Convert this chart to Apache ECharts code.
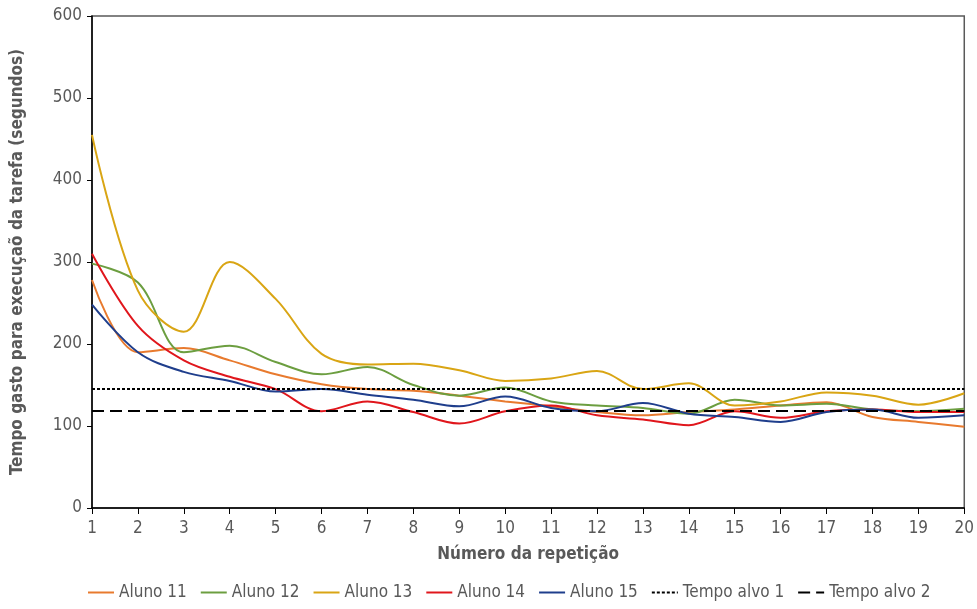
<!DOCTYPE html>
<html>
<head>
<meta charset="utf-8">
<script src="https://cdn.jsdelivr.net/npm/echarts@6/dist/echarts.min.js"></script>
<style>html,body{margin:0;padding:0;background:#fff}#c{width:977px;height:609px}</style>
</head>
<body>
<div id="c"></div>
<script>
const categories = ['1','2','3','4','5','6','7','8','9','10','11','12','13','14','15','16','17','18','19','20'];
const aluno11 = [278,190,195,180,163,151,145,143,137,130,124,117,113,117,120,125,129,111,105,99];
const aluno12 = [298,275,190,198,178,163,172,150,137,147,130,125,122,115,132,125,127,120,118,121];
const aluno13 = [455,265,215,300,255,188,175,176,168,155,158,167,145,152,125,130,141,137,126,140];
const aluno14 = [310,222,180,160,145,118,130,117,103,118,125,113,108,101,118,110,118,120,117,117];
const aluno15 = [248,190,166,155,142,145,138,132,124,136,122,118,128,115,111,105,117,120,110,113];
const tempoAlvo1 = 146;
const tempoAlvo2 = 118;
const yTicks = [0,100,200,300,400,500,600];

const font = 'DejaVu Sans Condensed, DejaVu Sans, sans-serif';
const txt = '#595959';
function line(name, data, color){
  return {name, type:'line', data, smooth:0.35, symbol:'none', showSymbol:false, lineStyle:{color, width:2}, itemStyle:{color}, z:3};
}
function target(name, value, type){
  return {name, type:'line', data:[], symbol:'none', showSymbol:false, lineStyle:{color:'#000', width:2, type}, itemStyle:{color:'#000'},
    markLine:{silent:true, symbol:'none', label:{show:false}, lineStyle:{color:'#000', width:2, type}, data:[{yAxis:value}]}, z:2};
}
const chart = echarts.init(document.getElementById('c'), null, {renderer:'canvas'});
chart.setOption({
  animation:false,
  grid:{left:92, right:12, top:16, bottom:101, show:true, borderColor:'#595959', borderWidth:1.5},
  xAxis:{type:'category', data:categories, boundaryGap:false,
    name:'Número da repetição', nameLocation:'middle', nameGap:38,
    nameTextStyle:{color:txt, fontFamily:font, fontSize:17, fontWeight:'bold'},
    axisLine:{lineStyle:{color:'#000', width:1.5}},
    axisTick:{show:true, length:6, lineStyle:{color:'#000'}, alignWithLabel:true},
    axisLabel:{color:txt, fontFamily:font, fontSize:17, margin:12},
    splitLine:{show:false}},
  yAxis:{type:'value', min:0, max:600, interval:100,
    name:'Tempo gasto para execuçaõ da tarefa (segundos)', nameLocation:'middle', nameGap:66,
    nameTextStyle:{color:txt, fontFamily:font, fontSize:17, fontWeight:'bold'},
    axisLine:{show:true, lineStyle:{color:'#000', width:1.5}},
    axisTick:{show:true, length:5, lineStyle:{color:'#000'}},
    axisLabel:{color:txt, fontFamily:font, fontSize:17, margin:10, formatter:v=>yTicks.includes(v)?String(v):''},
    splitLine:{show:false}},
  legend:{bottom:3, left:82, itemWidth:26, itemHeight:10, itemGap:13,
    itemStyle:{opacity:0},
    textStyle:{color:txt, fontFamily:font, fontSize:17}},
  series:[
    line('Aluno 11', aluno11, '#E87A2E'),
    line('Aluno 12', aluno12, '#6C9E40'),
    line('Aluno 13', aluno13, '#D9A514'),
    line('Aluno 14', aluno14, '#E0161C'),
    line('Aluno 15', aluno15, '#1F3E8C'),
    target('Tempo alvo 1', tempoAlvo1, [3,2]),
    target('Tempo alvo 2', tempoAlvo2, [12,6])
  ]
});
</script>
</body>
</html>
